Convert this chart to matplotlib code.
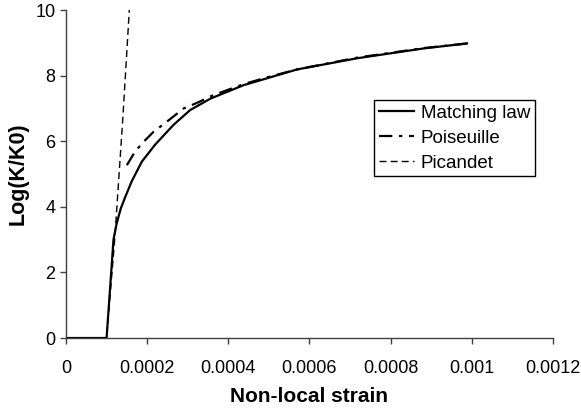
import matplotlib.pyplot as plt
import numpy as np

plt.rcParams['font.family'] = ['Liberation Sans', 'DejaVu Sans']

# Matching law
strain_match = [0, 0.0001, 0.000117, 0.000125, 0.000135, 0.000146, 0.000162, 0.000187, 0.00022,
                0.000265, 0.000306, 0.000356, 0.000438, 0.00057, 0.000718, 0.000882, 0.000988]
logk_match = [0, 0, 3.0, 3.5, 3.95, 4.3, 4.78, 5.38, 5.9,
              6.5, 6.95, 7.3, 7.71, 8.19, 8.53, 8.83, 8.98]

# Poiseuille
strain_pois = [0.00015, 0.00017, 0.000191, 0.000216, 0.000249, 0.00029, 0.000323, 0.000364,
               0.000438, 0.000496, 0.00057, 0.000718, 0.000882, 0.000988]
logk_pois = [5.27, 5.68, 5.98, 6.29, 6.6, 7.0, 7.17, 7.41,
             7.74, 7.95, 8.19, 8.55, 8.84, 8.98]

# Picandet
strain_pic = [0, 0.0001, 0.00012, 0.00014, 0.000157]
logk_pic = [0, 0, 3.0, 6.7, 10.2]

x_ticks = [0, 0.0002, 0.0004, 0.0006, 0.0008, 0.001, 0.0012]
x_ticklabels = ['0', '0.0002', '0.0004', '0.0006', '0.0008', '0.001', '0.0012']
y_ticks = [0, 2, 4, 6, 8, 10]

fig = plt.figure(figsize=(5.81, 4.12), dpi=100)
ax = fig.add_axes([0.1136, 0.1796, 0.8382, 0.7961])

ax.plot(strain_match, logk_match, color='black', lw=1.6, label='Matching law')
ax.plot(strain_pois, logk_pois, color='black', lw=1.6, dashes=(6, 3, 1.5, 3), label='Poiseuille')
ax.plot(strain_pic, logk_pic, color='black', lw=1.0, dashes=(5, 3), label='Picandet')

ax.set_xlim(0, 0.0012)
ax.set_ylim(0, 10)
ax.set_xticks(x_ticks)
ax.set_xticklabels(x_ticklabels)
ax.set_yticks(y_ticks)
ax.tick_params(labelsize=13, direction='out', length=4, width=1, color='#404040')
ax.tick_params(axis='x', pad=12)
ax.spines["top"].set_visible(False)
ax.spines["right"].set_visible(False)
for side in ["left", "bottom"]:
    ax.spines[side].set_color('#404040')
    ax.spines[side].set_linewidth(1)

ax.set_xlabel("Non-local strain", fontsize=15, fontweight='bold', labelpad=7)
ax.set_ylabel("Log(K/K0)", fontsize=15.5, fontweight='bold', labelpad=5)

leg = ax.legend(loc='upper right', bbox_to_anchor=(0.963, 0.726), fontsize=13.5,
                fancybox=False, framealpha=1, edgecolor='black', handlelength=1.9,
                borderpad=0.25, labelspacing=0.42, handletextpad=0.35, borderaxespad=0)
leg.get_frame().set_linewidth(1)

fig.savefig("out.png", dpi=100)
